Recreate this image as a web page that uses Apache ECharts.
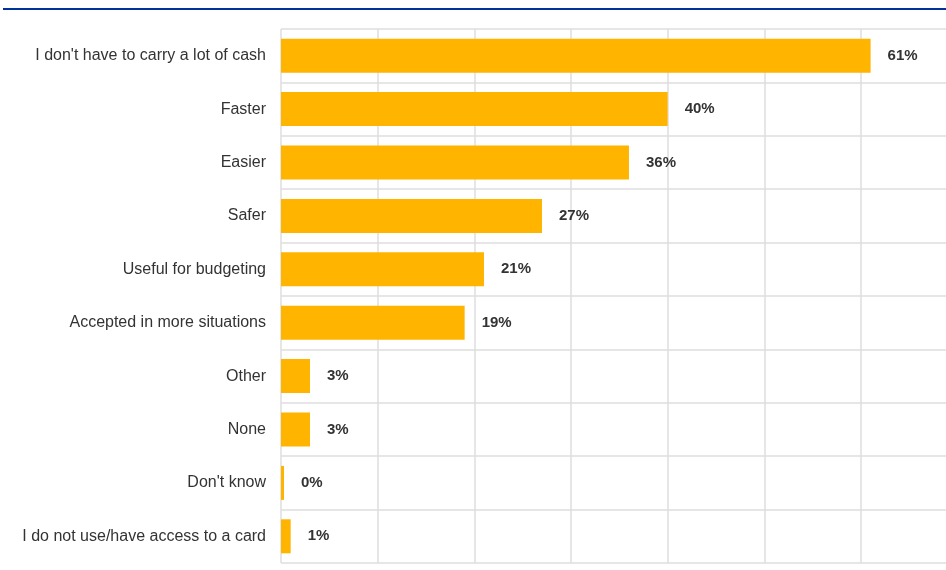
<!DOCTYPE html>
<html>
<head>
<meta charset="utf-8">
<script src="https://cdn.jsdelivr.net/npm/echarts@6/dist/echarts.min.js"></script>
<style>
  html, body { margin: 0; padding: 0; background: #fff; }
  #chart { width: 946px; height: 570px; }
</style>
</head>
<body>
<div id="chart"></div>
<script>
// Reasons for preferring card payments (share of respondents, %)
const categories = [
  "I don't have to carry a lot of cash",
  "Faster",
  "Easier",
  "Safer",
  "Useful for budgeting",
  "Accepted in more situations",
  "Other",
  "None",
  "Don't know",
  "I do not use/have access to a card"
];
const shares = [61, 40, 36, 27, 21, 19, 3, 3, 0, 1];
// The value axis runs a little past the last 10% gridline; the plot is cut at the right edge
const axisMax = 68.8;
const axisStep = 10;

const chart = echarts.init(document.getElementById('chart'), null, { renderer: 'canvas' });

chart.setOption({
  animation: false,
  backgroundColor: '#ffffff',
  textStyle: { fontFamily: '"Liberation Sans", Arial, sans-serif' },
  graphic: [{
    type: 'rect',
    shape: { x: 3, y: 8, width: 943, height: 2 },
    style: { fill: '#003399' },
    silent: true
  }],
  grid: { left: 281, top: 29, right: 0, height: 534, containLabel: false },
  xAxis: {
    type: 'value',
    min: 0,
    max: axisMax,
    interval: axisStep,
    axisLabel: { show: false },
    axisLine: { show: false },
    axisTick: { show: false },
    splitLine: { show: true, showMaxLine: false, lineStyle: { color: '#dedede', width: 1.5 } }
  },
  yAxis: {
    type: 'category',
    data: categories,
    inverse: true,
    axisLine: { show: false },
    axisTick: { show: false },
    axisLabel: {
      color: '#333333',
      fontSize: 16,
      margin: 15,
      fontFamily: '"Liberation Sans", Arial, sans-serif'
    },
    splitLine: { show: true, lineStyle: { color: '#dedede', width: 1.5 } }
  },
  series: [{
    type: 'bar',
    data: shares,
    barWidth: 34,
    barMinHeight: 3,
    itemStyle: { color: '#ffb400' },
    label: {
      show: true,
      position: 'right',
      distance: 17,
      formatter: p => Math.round(p.value) + '%',
      color: '#333333',
      fontWeight: 'bold',
      fontSize: 15,
      fontFamily: '"Liberation Sans", Arial, sans-serif'
    }
  }]
});
</script>
</body>
</html>
